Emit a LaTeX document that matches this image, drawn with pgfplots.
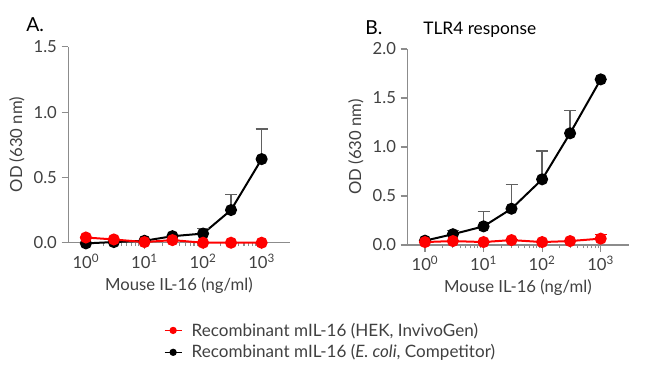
\documentclass[border=0pt]{standalone}
\usepackage{fontspec}
\setmainfont{Lato}
\usepackage{pgfplots}
\pgfplotsset{compat=1.18}
\definecolor{axgray}{HTML}{8C8C8C}
\definecolor{txtgray}{HTML}{404040}
\definecolor{errgray}{HTML}{606060}
\definecolor{myred}{HTML}{FF0000}
\pgfplotsset{
  every axis/.append style={
    anchor=south west,
    scale only axis, width=166pt, height=147pt,
    xmin=0.5, xmax=3000,
    ymin=0,
    axis x line*=bottom, axis y line*=left,
    axis line style={axgray, line width=0.8pt, -},
    tick style={axgray, line width=0.8pt},
    tick align=outside,
    major tick length=5pt, minor tick length=2.5pt,
    xtick={1,10,100,1000},
    xticklabels={10\textsuperscript{0},10\textsuperscript{1},10\textsuperscript{2},10\textsuperscript{3}},
    yticklabel style={/pgf/number format/fixed, /pgf/number format/fixed zerofill, /pgf/number format/precision=1, /pgf/number format/assume math mode=true},
    ticklabel style={font=\fontsize{12.5}{14}\selectfont, text=txtgray},
    label style={font=\fontsize{12.5}{14}\selectfont, text=txtgray},
    xlabel={Mouse IL-16 (ng/ml)},
    ylabel={OD (630 nm)},
    clip=false,
  },
}
\begin{document}
\begin{tikzpicture}
\path[use as bounding box] (0,0) rectangle (487.5pt,282.75pt);
% Panel A
\begin{semilogxaxis}[at={(51.2pt,100.7pt)}, ymax=1.5, ytick={0,0.5,1,1.5},
  legend style={draw=none, fill=none, at={(0.413,-0.38)}, anchor=north west,
    font=\fontsize{12.8}{14}\selectfont, text=txtgray, row sep=1pt},
  legend cell align=left,
  legend image code/.code={\draw[mark repeat=2,mark phase=2,#1, line width=1pt, mark size=2.2pt] plot coordinates {(0cm,0cm) (0.225cm,0cm) (0.45cm,0cm)};}]
\addlegendimage{myred, mark=*}
\addlegendentry{\hspace*{5pt}Recombinant mIL-16 (HEK, InvivoGen)}
\addlegendimage{black, mark=*}
\addlegendentry{\hspace*{5pt}Recombinant mIL-16 (\textit{E. coli}, Competitor)}
\addplot[forget plot, black, line width=1.5pt, mark=*, mark size=3.75pt,
  error bars/y dir=plus, error bars/y explicit,
  error bars/error bar style={errgray, line width=1pt},
  error bars/error mark options={errgray, rotate=90, mark size=4.5pt, line width=1pt}]
  table[x=x, y=y, y error=e] {
x y e
1 -0.005 0
3 0.005 0
10 0.015 0
30 0.05 0
100 0.07 0.04
300 0.25 0.12
1000 0.64 0.23
};
\addplot[forget plot, myred, line width=1.5pt, mark=*, mark size=3.75pt] table[x=x, y=y] {
x y
1 0.04
3 0.025
10 0.005
30 0.02
100 0.0
300 0.0
1000 0.0
};
\end{semilogxaxis}
% Panel B
\begin{semilogxaxis}[at={(305.5pt,99pt)}, ymax=2.0, ytick={0,0.5,1,1.5,2}]
\addplot[black, line width=1.5pt, mark=*, mark size=3.75pt,
  error bars/y dir=plus, error bars/y explicit,
  error bars/error bar style={errgray, line width=1pt},
  error bars/error mark options={errgray, rotate=90, mark size=4.5pt, line width=1pt}]
  table[x=x, y=y, y error=e] {
x y e
1 0.044 0
3 0.11 0.04
10 0.19 0.15
30 0.37 0.25
100 0.67 0.29
300 1.14 0.23
1000 1.69 0
};
\addplot[myred, line width=1.5pt, mark=*, mark size=3.75pt,
  error bars/y dir=plus, error bars/y explicit,
  error bars/error bar style={myred, line width=1pt},
  error bars/error mark options={myred, rotate=90, mark size=4.5pt, line width=1pt}]
  table[x=x, y=y, y error=e] {
x y e
1 0.03 0
3 0.04 0
10 0.03 0
30 0.05 0
100 0.03 0
300 0.04 0
1000 0.065 0.045
};
\end{semilogxaxis}
\node[anchor=base west, font=\fontsize{14.5}{16}\selectfont, inner sep=0pt] at (19.5pt,258.75pt) {A.};
\node[anchor=base west, font=\fontsize{14.5}{16}\selectfont, inner sep=0pt] at (273.75pt,256.5pt) {B.};
\node[anchor=base west, font=\fontsize{13}{15}\selectfont, inner sep=0pt] at (317.25pt,256.5pt) {TLR4 response};
\end{tikzpicture}
\end{document}
